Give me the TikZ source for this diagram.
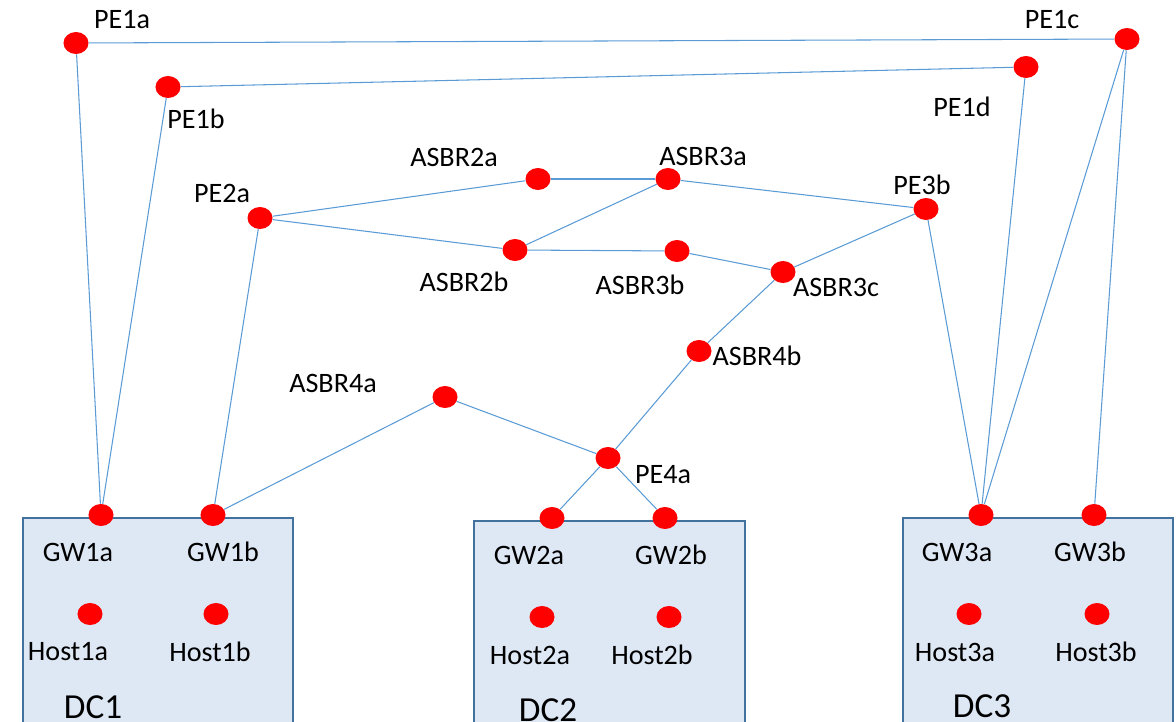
\documentclass[tikz,border=0pt]{standalone}
\usepackage{fontspec}
\setmainfont{Carlito}
\usetikzlibrary{shapes.geometric}
\definecolor{linkblue}{RGB}{91,155,213}
\definecolor{dcfill}{RGB}{222,232,245}
\definecolor{dcline}{RGB}{65,113,156}

\begin{document}
\begin{tikzpicture}[x=0.025cm,y=-0.025cm,
  dot/.style={ellipse,fill=red,inner sep=0pt,minimum width=0.625cm,minimum height=0.55cm},
  lbl/.style={font=\fontsize{20}{24}\selectfont,inner sep=0pt},
  dclbl/.style={font=\fontsize{25}{30}\selectfont,inner sep=0pt},
  link/.style={linkblue,line width=0.75pt},
  dcbox/.style={draw=dcline,fill=dcfill,line width=1.4pt}]
\useasboundingbox (0,0) rectangle (1176,722);

%data centres
\draw[dcbox] (23,518) rectangle (293,740);
\draw[dcbox] (474,521) rectangle (745,740);
\draw[dcbox] (903,518) rectangle (1173,740);
\node[dclbl] (dc1) at (93,707) {DC1};
\node[dclbl] (dc2) at (548,710) {DC2};
\node[dclbl] (dc3) at (982,706) {DC3};

%routers
\node[dot] (PE1a) at (76,43) {};
\node[dot] (PE1b) at (168,87) {};
\node[dot] (PE1c) at (1127,39) {};
\node[dot] (PE1d) at (1026,67) {};
\node[dot] (PE2a) at (260,218) {};
\node[dot] (ASBR2a) at (538,179) {};
\node[dot] (ASBR3a) at (668,179) {};
\node[dot] (PE3b) at (926,209) {};
\node[dot] (ASBR2b) at (515,250) {};
\node[dot] (ASBR3b) at (677,251) {};
\node[dot] (ASBR3c) at (783,272) {};
\node[dot] (ASBR4b) at (699,351) {};
\node[dot] (ASBR4a) at (445,397) {};
\node[dot] (PE4a) at (608,458) {};

%gateways and hosts
\node[dot] (GW1a) at (101,515) {};
\node[dot] (GW1b) at (213,515) {};
\node[dot] (GW2a) at (552,518) {};
\node[dot] (GW2b) at (665,518) {};
\node[dot] (GW3a) at (981,515) {};
\node[dot] (GW3b) at (1094,515) {};
\node[dot] (Host1a) at (90,614) {};
\node[dot] (Host1b) at (216,614) {};
\node[dot] (Host2a) at (542,617) {};
\node[dot] (Host2b) at (669,617) {};
\node[dot] (Host3a) at (969,614) {};
\node[dot] (Host3b) at (1097,614) {};

%labels
\node[lbl] (PE1a-t) at (122,20) {PE1a};
\node[lbl] (PE1b-t) at (196,119) {PE1b};
\node[lbl] (PE1c-t) at (1052,20) {PE1c};
\node[lbl] (PE1d-t) at (962,107) {PE1d};
\node[lbl] (PE2a-t) at (222,193) {PE2a};
\node[lbl] (ASBR2a-t) at (454,157) {ASBR2a};
\node[lbl] (ASBR3a-t) at (703,156) {ASBR3a};
\node[lbl] (PE3b-t) at (922,185) {PE3b};
\node[lbl] (ASBR2b-t) at (464,282) {ASBR2b};
\node[lbl] (ASBR3b-t) at (640,285) {ASBR3b};
\node[lbl] (ASBR3c-t) at (836,287) {ASBR3c};
\node[lbl] (ASBR4b-t) at (757,356) {ASBR4b};
\node[lbl] (ASBR4a-t) at (333,383) {ASBR4a};
\node[lbl] (PE4a-t) at (663,475) {PE4a};
\node[lbl] (GW1a-t) at (78,552) {GW1a};
\node[lbl] (GW1b-t) at (223,552) {GW1b};
\node[lbl] (GW2a-t) at (529,555) {GW2a};
\node[lbl] (GW2b-t) at (671,555) {GW2b};
\node[lbl] (GW3a-t) at (957,552) {GW3a};
\node[lbl] (GW3b-t) at (1090,552) {GW3b};
\node[lbl] (Host1a-t) at (68,652) {Host1a};
\node[lbl] (Host1b-t) at (210,652) {Host1b};
\node[lbl] (Host2a-t) at (530,655) {Host2a};
\node[lbl] (Host2b-t) at (652,655) {Host2b};
\node[lbl] (Host3a-t) at (955,652) {Host3a};
\node[lbl] (Host3b-t) at (1096,652) {Host3b};

%links
\draw[link] (PE1a) -- (PE1c);
\draw[link] (PE1a) -- (GW1a);
\draw[link] (PE1b) -- (PE1d);
\draw[link] (PE1b) -- (GW1a);
\draw[link] (PE1c) -- (GW3a);
\draw[link] (PE1c) -- (GW3b);
\draw[link] (PE1d) -- (GW3a);
\draw[link] (PE2a) -- (ASBR2a);
\draw[link] (PE2a) -- (ASBR2b);
\draw[link] (PE2a) -- (GW1b);
\draw[link] (ASBR2a) -- (ASBR3a);
\draw[link] (ASBR3a) -- (PE3b);
\draw[link] (ASBR3a) -- (ASBR2b);
\draw[link] (ASBR2b) -- (ASBR3b);
\draw[link] (ASBR3b) -- (ASBR3c);
\draw[link] (ASBR3c) -- (PE3b);
\draw[link] (ASBR3c) -- (ASBR4b);
\draw[link] (ASBR4b) -- (PE4a);
\draw[link] (PE3b) -- (GW3a);
\draw[link] (ASBR4a) -- (GW1b);
\draw[link] (ASBR4a) -- (PE4a);
\draw[link] (PE4a) -- (GW2a);
\draw[link] (PE4a) -- (GW2b);
\end{tikzpicture}
\end{document}
